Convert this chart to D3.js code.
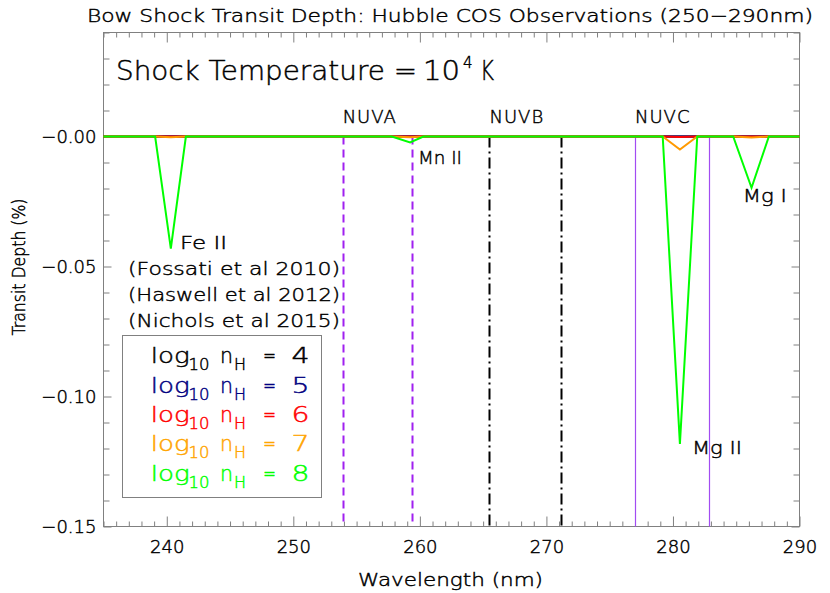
<!DOCTYPE html>
<html>
<head>
<meta charset="utf-8">
<script src="https://cdn.jsdelivr.net/npm/d3@7"></script>
<style>
  body { margin: 0; background: #fff; }
  text { font-family: "DejaVu Sans", sans-serif; font-weight: 300; fill: #000; stroke: #000; stroke-width: 0.45px; }
</style>
</head>
<body>
<script>
// ---------- data ----------
const wavelengths = [235, 239.08, 240.32, 241.51, 257.78, 259.23, 260.28, 279.19, 280.55, 281.92, 284.76, 286.21, 287.58, 290];
const depthN4 = [0, 0, 0, 0, 0, 0, 0, 0, 0, 0, 0, 0, 0, 0];
const depthN5 = [0, 0, 0, 0, 0, 0, 0, 0, 0, 0, 0, 0, 0, 0];
const depthN6 = [0, 0, 0, 0, 0, 0, 0, 0, -0.0002, 0, 0, 0, 0, 0];
const depthN7 = [0, 0, -0.0003, 0, 0, -0.0003, 0, 0, -0.0050, 0, 0, -0.0004, 0, 0];
const depthN8 = [0, 0, -0.0431, 0, 0, -0.0023, 0, 0, -0.1182, 0, 0, -0.0197, 0, 0];
const seriesNames = ["4", "5", "6", "7", "8"];
const seriesColors = ["#000000", "#000080", "#ff0000", "#ff9a00", "#00ff00"];
const legendColors = ["#000000", "#000080", "#ff0000", "#ffa500", "#00ff00"];

const bandNames = ["NUVA", "NUVB", "NUVC"];
const bandEdges = [[253.9, 259.35], [265.5, 271.15], [277.0, 282.85]];

const lineLabels = ["Fe II", "Mn II", "Mg II", "Mg I"];
const lineLabelWl = [241.05, 259.85, 281.5, 285.51];
const lineLabelDepth = [-0.0431, -0.0104, -0.1223, -0.0253];
const lineLabelWidth = [47, 44, 50, 44];

const refs = ["(Fossati et al 2010)", "(Haswell et al 2012)", "(Nichols et al 2015)"];
const refWl = 236.94;
const refDepth = [-0.0533, -0.0633, -0.0733];

const xMajor = [240, 250, 260, 270, 280, 290];
const yMajor = [0, -0.05, -0.10, -0.15];
const xDomain = [235, 290];
const yDomain = [-0.15, 0.04];

// ---------- setup ----------
const W = 830, H = 593;
const L = 103.5, R = 799.5, T = 32.5, B = 526.5;
const svg = d3.select("body").append("svg").attr("width", W).attr("height", H);

const x = d3.scaleLinear().domain(xDomain).range([L, R]);
const y = d3.scaleLinear().domain(yDomain).range([B, T]);

const gray = "#808080";
const xMinor = d3.range(235, 291, 1).filter(v => !xMajor.includes(v));
const yMinor = d3.range(-15, 5, 1).map(v => v / 100).filter(v => !yMajor.some(m => Math.abs(m - v) < 1e-9));

function styleAxis(g) {
  g.select(".domain").remove();
  g.selectAll(".tick line").attr("stroke", gray);
  g.selectAll(".tick text").style("font-size", "18px").style("font-family", "DejaVu Sans, sans-serif")
    .style("font-weight", "300").attr("fill", "#000");
}
const fmtY = v => (v <= 0 ? "\u2212" : "") + Math.abs(v).toFixed(2);

// bottom
svg.append("g").attr("transform", `translate(0,${B})`)
  .call(d3.axisBottom(x).tickValues(xMajor).tickSize(-10).tickPadding(14).tickFormat(d3.format("d"))).call(styleAxis);
svg.append("g").attr("transform", `translate(0,${B})`)
  .call(d3.axisBottom(x).tickValues(xMinor).tickSize(-5).tickFormat("")).call(styleAxis);
// top
svg.append("g").attr("transform", `translate(0,${T})`)
  .call(d3.axisTop(x).tickValues(xMajor).tickSize(-10).tickFormat("")).call(styleAxis);
svg.append("g").attr("transform", `translate(0,${T})`)
  .call(d3.axisTop(x).tickValues(xMinor).tickSize(-5).tickFormat("")).call(styleAxis);
// left
svg.append("g").attr("transform", `translate(${L},0)`)
  .call(d3.axisLeft(y).tickValues(yMajor).tickSize(-8).tickPadding(7).tickFormat(fmtY)).call(styleAxis);
svg.append("g").attr("transform", `translate(${L},0)`)
  .call(d3.axisLeft(y).tickValues(yMinor).tickSize(-6).tickFormat("")).call(styleAxis);
// right
svg.append("g").attr("transform", `translate(${R},0)`)
  .call(d3.axisRight(y).tickValues(yMajor).tickSize(-8).tickFormat("")).call(styleAxis);
svg.append("g").attr("transform", `translate(${R},0)`)
  .call(d3.axisRight(y).tickValues(yMinor).tickSize(-6).tickFormat("")).call(styleAxis);

// frame
svg.append("rect").attr("x", L).attr("y", T).attr("width", R - L).attr("height", B - T)
  .attr("fill", "none").attr("stroke", gray).attr("stroke-width", 1);

// ---------- band lines ----------
const bandStyles = [
  { color: "#a020f0", width: 2, dash: "8,5" },
  { color: "#000000", width: 2, dash: "11,4,2,4" },
  { color: "#a24cf2", width: 1.2, dash: null }
];
bandEdges.forEach((edges, i) => {
  edges.forEach(wl => {
    svg.append("line")
      .attr("x1", Math.round(x(wl)) + 0.5).attr("x2", Math.round(x(wl)) + 0.5)
      .attr("y1", y(0)).attr("y2", y(yDomain[0]))
      .style("stroke", bandStyles[i].color).style("stroke-width", bandStyles[i].width)
      .attr("stroke-dasharray", bandStyles[i].dash);
  });
  svg.append("text").attr("x", x(edges[0])).attr("y", y(0) - 14)
    .style("font-size", "18px").style("letter-spacing", "1px").text(bandNames[i]);
});

// ---------- series ----------
const series = [depthN4, depthN5, depthN6, depthN7, depthN8];
const line = d3.line().x((d, i) => x(wavelengths[i])).y(d => y(d));
series.forEach((vals, i) => {
  svg.append("path").datum(vals).attr("d", line)
    .attr("fill", "none").attr("stroke", seriesColors[i]).attr("stroke-width", 2)
    .attr("stroke-linejoin", "miter");
});

// ---------- annotations ----------
lineLabels.forEach((t, i) => {
  svg.append("text").attr("x", x(lineLabelWl[i])).attr("y", y(lineLabelDepth[i]))
    .style("font-size", "18px").attr("textLength", lineLabelWidth[i]).attr("lengthAdjust", "spacingAndGlyphs").text(t);
});
refs.forEach((t, i) => {
  svg.append("text").attr("x", x(refWl)).attr("y", y(refDepth[i]))
    .style("font-size", "18px").attr("textLength", 212).attr("lengthAdjust", "spacingAndGlyphs").text(t);
});

// title
svg.append("text").attr("x", 87).attr("y", 22).style("font-size", "18px")
  .attr("textLength", 726).attr("lengthAdjust", "spacingAndGlyphs")
  .text("Bow Shock Transit Depth: Hubble COS Observations (250\u2212290nm)");

// shock temperature
const st = svg.append("g").style("font-size", "26px");
st.append("text").attr("x", 116).attr("y", 80).attr("textLength", 301).attr("lengthAdjust", "spacingAndGlyphs").text("Shock Temperature =");
st.append("text").attr("x", 423).attr("y", 80).attr("textLength", 37).attr("lengthAdjust", "spacingAndGlyphs").text("10");
st.append("text").attr("x", 463).attr("y", 68).style("font-size", "15px").text("4");
st.append("text").attr("x", 480).attr("y", 80).attr("textLength", 14).attr("lengthAdjust", "spacingAndGlyphs").text("K");

// axis titles
svg.append("text").attr("x", 358).attr("y", 586).style("font-size", "18px")
  .attr("textLength", 185).attr("lengthAdjust", "spacingAndGlyphs").text("Wavelength (nm)");
svg.append("text").attr("transform", "translate(25,267) rotate(-90)").attr("text-anchor", "middle")
  .style("font-size", "17px").attr("textLength", 137).attr("lengthAdjust", "spacingAndGlyphs").text("Transit Depth (%)");

// ---------- legend ----------
svg.append("rect").attr("x", 122.5).attr("y", 335.5).attr("width", 199).attr("height", 162)
  .attr("fill", "none").attr("stroke", gray).attr("stroke-width", 1);
seriesNames.forEach((n, i) => {
  const by = 363.3 + i * 29.35;
  const g = svg.append("g");
  const txt = (xx, yy, s, size, len) => {
    const el = g.append("text").attr("x", xx).attr("y", yy).style("font-size", size + "px")
      .style("fill", legendColors[i]).style("stroke", legendColors[i]).text(s);
    if (len) el.attr("textLength", len).attr("lengthAdjust", "spacingAndGlyphs");
  };
  txt(150.7, by, "log", 21, 39);
  txt(188.5, by + 7, "10", 16, 21);
  txt(220, by, "n", 21, 13);
  txt(234, by + 7, "H", 16, 12);
  txt(263, by, "=", 21, 13);
  txt(291.5, by, n, 21, 18);
});
</script>
</body>
</html>
